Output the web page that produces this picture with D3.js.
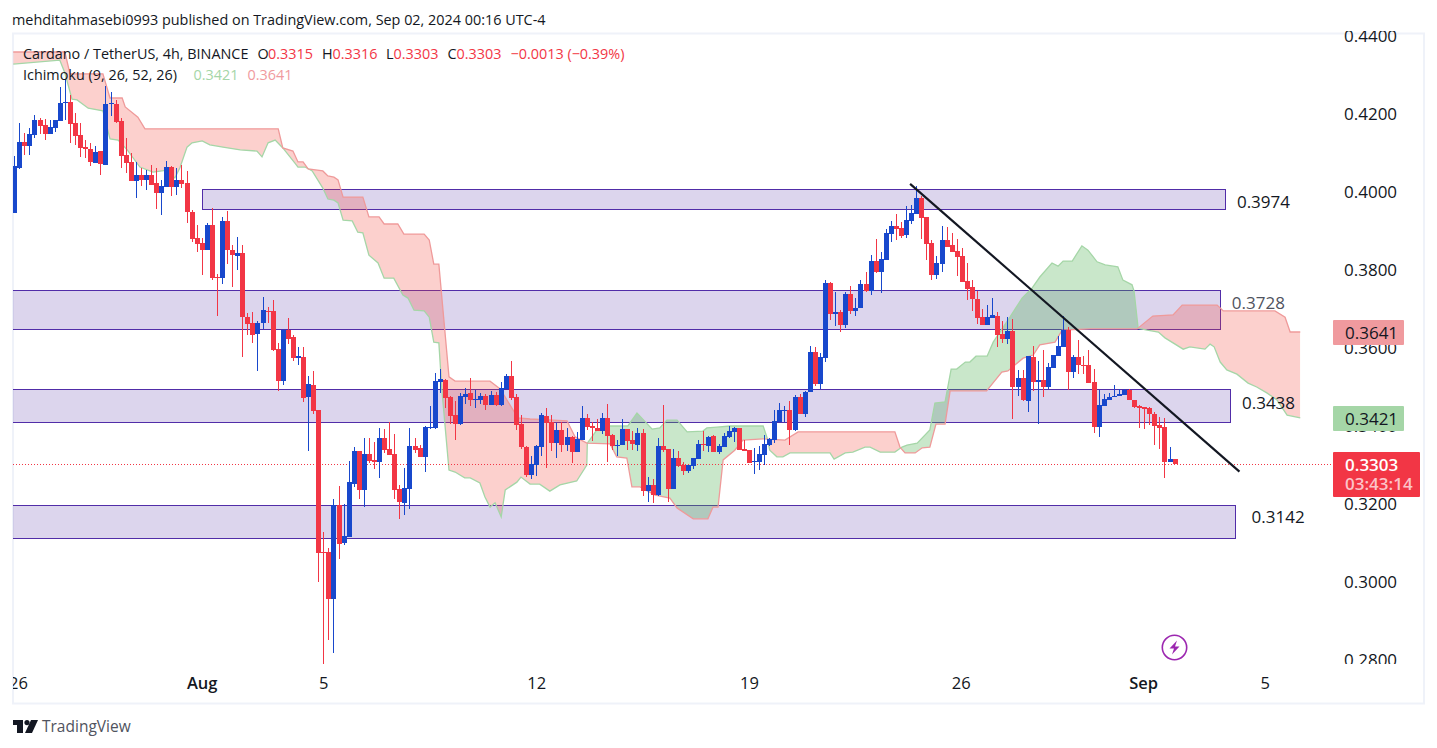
<!DOCTYPE html>
<html>
<head>
<meta charset="utf-8">
<script src="https://cdnjs.cloudflare.com/ajax/libs/d3/7.8.5/d3.min.js"></script>
<style>
  html, body { margin: 0; padding: 0; background: #fff; overflow: hidden; }
  text { font-family: "Open Sans", sans-serif; }
</style>
</head>
<body>
<svg id="chart" width="1437" height="748"></svg>
<script>
// 4h candles
var opens = [.3945,.4062,.4128,.4118,.4147,.4185,.4172,.4149,.4164,.4183,
  .4229,.4231,.4176,.4145,.4115,.4109,.4075,.4104,.4070,.4226,
  .4226,.4181,.4094,.4077,.4029,.4044,.4031,.4044,.4022,.3998,
  .4014,.4063,.4014,.4032,.4022,.3950,.3881,.3868,.3851,.3915,
  .3781,.3779,.3925,.3851,.3836,.3843,.3679,.3663,.3636,.3663,
  .3695,.3695,.3597,.3516,.3646,.3627,.3575,.3577,.3474,.3505,
  .3441,.3077,.3077,.2957,.3197,.3101,.3115,.3251,.3336,.3236,
  .3328,.3313,.3308,.3369,.3341,.3328,.3238,.3202,.3238,.3349,
  .3344,.3320,.3394,.3395,.3513,.3518,.3474,.3428,.3405,.3475,
  .3485,.3468,.3467,.3477,.3454,.3479,.3454,.3495,.3528,.3474,
  .3405,.3346,.3274,.3300,.3346,.3426,.3410,.3357,.3390,.3351,
  .3372,.3333,.3364,.3421,.3400,.3395,.3387,.3421,.3377,.3349,
  .3351,.3392,.3364,.3351,.3382,.3233,.3249,.3223,.3349,.3341,
  .3239,.3318,.3300,.3285,.3298,.3316,.3354,.3349,.3374,.3333,
  .3346,.3372,.3385,.3395,.3341,.3339,.3309,.3308,.3326,.3351,
  .3364,.3410,.3439,.3441,.3390,.3474,.3431,.3487,.3589,.3507,
  .3574,.3766,.3688,.3692,.3659,.3738,.3694,.3702,.3764,.3747,
  .3823,.3794,.3825,.3892,.3912,.3907,.3889,.3925,.3943,.3984,
  .3935,.3869,.3787,.3815,.3876,.3864,.3848,.3835,.3771,.3756,
  .3725,.3679,.3659,.3677,.3682,.3635,.3624,.3644,.3500,.3524,
  .3465,.3577,.3512,.3518,.3500,.3549,.3580,.3603,.3647,.3539,
  .3577,.3557,.3557,.3513,.3398,.3452,.3467,.3475,.3476,.3480,
  .3493,.3467,.3452,.3449,.3447,.3431,.3403,.3398,.3308,.3315];
var highs = [.4092,.4178,.4152,.4163,.4198,.4189,.4188,.4185,.4185,.4270,
  .4291,.4249,.4203,.4176,.4133,.4126,.4118,.4105,.4272,.4257,
  .4236,.4191,.4138,.4099,.4077,.4061,.4056,.4069,.4061,.4031,
  .4079,.4067,.4061,.4069,.4054,.3954,.3915,.3881,.3921,.3958,
  .3791,.3937,.3951,.3864,.3885,.3864,.3691,.3693,.3668,.3732,
  .3706,.3723,.3612,.3650,.3676,.3633,.3603,.3603,.3528,.3541,
  .3441,.3128,.3087,.3213,.3246,.3200,.3310,.3346,.3336,.3369,
  .3369,.3359,.3395,.3392,.3409,.3379,.3249,.3292,.3395,.3369,
  .3351,.3400,.3451,.3536,.3546,.3520,.3477,.3464,.3485,.3497,
  .3523,.3492,.3485,.3482,.3490,.3487,.3513,.3533,.3567,.3482,
  .3428,.3349,.3323,.3351,.3433,.3446,.3428,.3408,.3410,.3395,
  .3374,.3385,.3451,.3431,.3410,.3418,.3433,.3457,.3380,.3364,
  .3418,.3392,.3387,.3395,.3392,.3269,.3264,.3369,.3454,.3341,
  .3341,.3336,.3308,.3300,.3318,.3364,.3387,.3374,.3377,.3354,
  .3381,.3400,.3398,.3395,.3364,.3339,.3344,.3349,.3377,.3369,
  .3441,.3459,.3451,.3464,.3480,.3482,.3490,.3605,.3602,.3587,
  .3774,.3769,.3743,.3697,.3743,.3759,.3728,.3774,.3794,.3838,
  .3879,.3846,.3905,.3925,.3943,.3923,.3964,.3966,.4015,.3989,
  .3935,.3876,.3835,.3912,.3910,.3894,.3879,.3856,.3818,.3774,
  .3746,.3700,.3710,.3728,.3692,.3669,.3679,.3675,.3544,.3544,
  .3580,.3606,.3567,.3595,.3562,.3582,.3631,.3682,.3653,.3582,
  .3621,.3580,.3595,.3547,.3493,.3482,.3485,.3506,.3495,.3495,
  .3495,.3467,.3454,.3449,.3449,.3436,.3424,.3421,.3347,.3316];
var lows = [.3945,.4060,.4095,.4095,.4138,.4149,.4133,.4149,.4155,.4183,
  .4185,.4126,.4121,.4091,.4086,.4067,.4074,.4044,.4070,.4195,
  .4176,.4062,.4050,.4029,.3985,.4015,.4005,.4019,.3956,.3942,
  .4014,.3991,.3992,.4009,.3921,.3871,.3845,.3787,.3851,.3774,
  .3682,.3764,.3815,.3757,.3800,.3578,.3633,.3614,.3542,.3650,
  .3663,.3593,.3491,.3505,.3610,.3567,.3556,.3462,.3337,.3432,
  .3000,.2791,.2851,.2819,.3059,.3095,.3115,.3244,.3213,.3193,
  .3304,.3290,.3267,.3330,.3326,.3213,.3161,.3172,.3187,.3331,
  .3320,.3282,.3392,.3392,.3485,.3446,.3405,.3364,.3402,.3456,
  .3451,.3446,.3456,.3441,.3454,.3451,.3451,.3495,.3467,.3390,
  .3341,.3269,.3264,.3272,.3323,.3292,.3336,.3318,.3333,.3336,
  .3305,.3333,.3364,.3390,.3362,.3387,.3380,.3308,.3339,.3323,
  .3351,.3339,.3339,.3336,.3221,.3205,.3203,.3221,.3333,.3205,
  .3239,.3295,.3274,.3280,.3290,.3316,.3336,.3333,.3333,.3328,
  .3346,.3369,.3359,.3339,.3336,.3305,.3277,.3287,.3300,.3349,
  .3357,.3410,.3410,.3351,.3387,.3431,.3423,.3487,.3502,.3494,
  .3564,.3671,.3656,.3641,.3651,.3687,.3682,.3702,.3743,.3735,
  .3792,.3741,.3825,.3871,.3877,.3882,.3882,.3918,.3943,.3879,
  .3825,.3774,.3776,.3794,.3859,.3846,.3784,.3769,.3723,.3694,
  .3661,.3659,.3659,.3677,.3602,.3612,.3610,.3418,.3476,.3465,
  .3436,.3490,.3406,.3475,.3495,.3549,.3580,.3603,.3493,.3524,
  .3534,.3534,.3511,.3382,.3372,.3452,.3467,.3475,.3476,.3480,
  .3467,.3447,.3395,.3393,.3403,.3352,.3341,.3267,.3308,.3303];
var closes = [.4067,.4128,.4118,.4149,.4185,.4169,.4149,.4166,.4185,.4227,
  .4231,.4174,.4144,.4113,.4111,.4077,.4103,.4072,.4226,.4228,
  .4179,.4092,.4075,.4029,.4044,.4031,.4044,.4019,.3998,.4015,
  .4063,.4014,.4032,.4021,.3949,.3879,.3867,.3851,.3915,.3779,
  .3779,.3925,.3851,.3838,.3843,.3680,.3662,.3633,.3663,.3697,
  .3692,.3595,.3516,.3646,.3623,.3575,.3579,.3472,.3508,.3438,
  .3075,.3075,.2957,.3197,.3097,.3118,.3256,.3336,.3236,.3328,
  .3310,.3308,.3369,.3338,.3326,.3236,.3205,.3241,.3349,.3338,
  .3320,.3397,.3397,.3515,.3520,.3472,.3426,.3405,.3477,.3482,
  .3467,.3470,.3477,.3454,.3479,.3454,.3497,.3528,.3472,.3402,
  .3346,.3274,.3303,.3349,.3428,.3408,.3357,.3390,.3351,.3372,
  .3333,.3367,.3421,.3398,.3395,.3387,.3421,.3374,.3349,.3351,
  .3392,.3362,.3354,.3382,.3233,.3249,.3223,.3349,.3339,.3239,
  .3318,.3298,.3285,.3300,.3318,.3354,.3351,.3372,.3333,.3349,
  .3374,.3387,.3395,.3339,.3336,.3305,.3310,.3328,.3354,.3367,
  .3413,.3441,.3441,.3390,.3474,.3431,.3487,.3589,.3507,.3577,
  .3766,.3687,.3692,.3659,.3738,.3694,.3702,.3764,.3746,.3823,
  .3794,.3828,.3894,.3912,.3905,.3887,.3928,.3946,.3984,.3933,
  .3866,.3787,.3818,.3876,.3859,.3846,.3833,.3769,.3751,.3725,
  .3677,.3659,.3679,.3684,.3633,.3623,.3644,.3500,.3524,.3467,
  .3580,.3513,.3518,.3500,.3552,.3582,.3606,.3647,.3539,.3577,
  .3557,.3554,.3511,.3398,.3454,.3470,.3475,.3477,.3482,.3493,
  .3467,.3449,.3447,.3444,.3431,.3400,.3395,.3308,.3316,.3303];

// ichimoku cloud edges, bar index + price
var spanAIdx = [-0.2,9,10,11.4,12.4,14.6,17.5,18.9,20.5,22.3,24.8,27.4,30.2,31.7,32.7,34.1,35.1,37.1,38.6,41.2,44.6,47.9,48.9,50.1,51.5,53,55.4,56,57.4,58.8,60.9,61.9,63.1,63.9,64.9,66.7,67.8,68.8,70,71.8,73,74.9,76.7,77.7,78.9,80.9,81.9,82.8,83.8,84.4,85.8,87,88.9,90,91.9,92.9,93.9,94.9,96.1,96.9,99.2,100,101.8,103.7,105.7,107.7,111,113,113.1,115,117.6,121.1,122.9,125.9,127.4,128.8,130.8,132.8,135.9,136.7,138.7,141.3,147.8,148.6,149.1,150.5,151.7,153.1,161,161.8,164,165.5,167.9,168.9,170.9,173.8,175.2,176.2,178.2,180.7,181.7,183.7,184.9,186,187.7,188.6,189.8,192,193.2,196.5,198.9,200.9,202.4,204.8,206,207,208.8,210.7,211.9,213.7,215.3,217.8,218.8,220.6,221,221.8,223.6,225.8,227.1,230.7,232,235,236,236.8,238,239.3,241.3,243.5,245.2,247.2,249.2,251.2,253.8];
var spanA = [.4328,.4338,.4305,.4238,.4236,.4215,.4208,.4136,.4133,.4108,.4064,.4051,.4056,.4036,.4062,.4115,.4126,.4131,.4121,.4115,.4108,.4105,.4090,.4126,.4133,.4113,.4074,.4064,.4064,.4054,.4010,.3982,.3979,.3972,.3928,.3926,.3897,.3895,.3838,.3818,.3779,.3779,.3736,.3728,.3697,.3695,.3679,.3615,.3613,.3492,.3287,.3282,.3267,.3267,.3254,.3218,.3192,.3203,.3167,.3236,.3256,.3269,.3251,.3251,.3233,.3249,.3259,.3300,.3356,.3390,.3400,.3400,.3433,.3392,.3395,.3415,.3415,.3385,.3387,.3395,.3397,.3400,.3400,.3369,.3338,.3321,.3321,.3331,.3331,.3315,.3331,.3333,.3346,.3346,.3333,.3333,.3346,.3351,.3356,.3390,.3459,.3462,.3546,.3546,.3564,.3564,.3579,.3579,.3615,.3679,.3728,.3754,.3782,.3818,.3810,.3823,.3823,.3862,.3851,.3821,.3813,.3808,.3774,.3762,.3746,.3651,.3646,.3641,.3626,.3597,.3603,.3597,.3610,.3603,.3564,.3544,.3533,.3510,.3500,.3485,.3467,.3428,.3421];
var spanBIdx = [-0.2,10,11,17.5,18.9,21.3,21.9,24.4,25.8,52.1,53,55,56,57,58,60.9,61.9,63.1,63.9,64.9,68.8,70,72,73,75.7,76.9,80.9,81.9,82.8,83.8,85.8,87,93.9,95.9,99.4,101.8,109.1,110.7,113,117.6,118.9,120.9,121.9,123.5,126.5,129.4,130.8,134,136.9,137.9,138.9,139.9,142.2,143.8,147.8,152.1,154.7,173.8,174.8,175.8,177.8,179.2,180.7,181.9,183.7,184.7,191.9,194.9,196.1,199.1,201.1,202.4,205.4,206.8,212.3,221.6,224.7,228.7,230.5,237.4,238.6,248.8,250.8,251.8,253.8];
var spanB = [.4359,.4359,.4303,.4303,.4241,.4241,.4218,.4192,.4162,.4162,.4113,.4105,.4077,.4077,.4059,.4054,.4041,.4038,.4031,.3987,.3987,.3936,.3936,.3918,.3918,.3892,.3892,.3877,.3815,.3815,.3526,.3515,.3515,.3495,.3421,.3418,.3413,.3372,.3356,.3354,.3321,.3318,.3244,.3244,.3223,.3215,.3190,.3162,.3162,.3192,.3192,.3313,.3338,.3364,.3367,.3364,.3385,.3385,.3346,.3331,.3331,.3344,.3346,.3405,.3405,.3490,.3490,.3538,.3541,.3574,.3582,.3608,.3615,.3646,.3649,.3649,.3682,.3685,.3710,.3710,.3695,.3695,.3679,.3641,.3641];

// support / resistance zones
var zoneStart = [37.1, -1, -1, -1];
var zoneEnd = [238.9, 237.9, 239.9, 240.9];
var zoneTop = [.4007, .3748, .3494, .3197];
var zoneBottom = [.3956, .3649, .3409, .3113];
var zoneLabels = ["0.3974", "0.3728", "0.3438", "0.3142"];
var zoneLabelIdx = [241.3, 240.3, 242.3, 244.2];
var zoneLabelPrice = [.3974, .3715, .3459, .3167];

// trend line, bar index + price
var trendIdx = [176.8, 241.8];
var trendPrice = [.4021, .3283];

var priceTicks = [.44, .42, .40, .38, .36, .34, .32, .30, .28];
var timeTickIdx = [.75, 37, 61, 103, 145, 186.8, 222.8, 246.8];
var timeTickLabels = ["26", "Aug", "5", "12", "19", "26", "Sep", "5"];
var lastPrice = .3303;

var up = "#1848cc", down = "#f23645";
var width = 1437, height = 748;

var x = d3.scaleLinear().domain([0, 229]).range([14.23, 1174.6]);
var y = d3.scaleLinear().domain([.44, .28]).range([36, 660]);

var svg = d3.select("#chart");
var defs = svg.append("defs");

defs.append("clipPath").attr("id", "pane")
    .append("rect").attr("x", 13).attr("y", 34).attr("width", 1411).attr("height", 669);
defs.append("clipPath").attr("id", "priceClip")
    .append("rect").attr("x", 1330).attr("y", 31).attr("width", 90).attr("height", 633);
defs.append("clipPath").attr("id", "timeClip")
    .append("rect").attr("x", 13).attr("y", 665).attr("width", 1411).attr("height", 38);

// frame
svg.append("rect")
    .attr("x", 13).attr("y", 33.5).attr("width", 1411).attr("height", 670)
    .style("fill", "#fff").style("stroke", "#eff2f9").style("stroke-width", 2);

var pane = svg.append("g").attr("clip-path", "url(#pane)");

// zones go under the cloud
var zones = pane.append("g");
zoneEnd.forEach(function(end, i){
    zones.append("rect")
	.attr("x", Math.round(x(zoneStart[i])) + .5)
	.attr("y", Math.round(y(zoneTop[i])) + .5)
	.attr("width", Math.round(x(end)) - Math.round(x(zoneStart[i])))
	.attr("height", Math.round(y(zoneBottom[i])) - Math.round(y(zoneTop[i])))
	.style("fill", "rgba(103,72,178,.23)")
	.style("stroke", "#512da8")
	.style("stroke-width", 1);
});

// cloud: red where B is over A, green where A is over B
var ptsA = spanAIdx.map(function(d, i){ return [d, spanA[i]]; });
var ptsB = spanBIdx.map(function(d, i){ return [d, spanB[i]]; });
var above = d3.area().x(function(d){return x(d[0]);}).y0(function(d){return y(d[1]);}).y1(0);
var below = d3.area().x(function(d){return x(d[0]);}).y0(function(d){return y(d[1]);}).y1(height);
var edge = d3.line().x(function(d){return x(d[0]);}).y(function(d){return y(d[1]);});

defs.append("clipPath").attr("id", "belowB").append("path").attr("d", below(ptsB));
defs.append("clipPath").attr("id", "belowA").append("path").attr("d", below(ptsA));

pane.append("path").attr("d", above(ptsA)).attr("clip-path", "url(#belowB)")
    .style("fill", "rgba(244,67,54,.25)");
pane.append("path").attr("d", above(ptsB)).attr("clip-path", "url(#belowA)")
    .style("fill", "rgba(76,175,80,.3)");
pane.append("path").attr("d", edge(ptsA))
    .style("fill", "none").style("stroke", "#a5d6a7").style("stroke-width", 1.3);
pane.append("path").attr("d", edge(ptsB))
    .style("fill", "none").style("stroke", "#ef9a9a").style("stroke-width", 1.3);

// last price line
pane.append("line")
    .attr("x1", 13).attr("x2", 1331)
    .attr("y1", Math.round(y(lastPrice)) + .5).attr("y2", Math.round(y(lastPrice)) + .5)
    .style("stroke", down).style("stroke-dasharray", "1 2");

// candles
var candles = pane.append("g").selectAll("g")
    .data(opens)
    .enter().append("g")
    .style("shape-rendering", "crispEdges");
function colorOf(d, i){ return closes[i] >= d ? up : down; }
candles.append("rect")
    .attr("x", function(d, i){ return Math.round(x(i)); })
    .attr("y", function(d, i){ return y(highs[i]); })
    .attr("width", 1)
    .attr("height", function(d, i){ return y(lows[i]) - y(highs[i]); })
    .style("fill", colorOf);
candles.append("rect")
    .attr("x", function(d, i){ return Math.round(x(i)) - 2; })
    .attr("y", function(d, i){ return Math.round(y(Math.max(d, closes[i]))); })
    .attr("width", 5)
    .attr("height", function(d, i){ return Math.max(1, Math.round(y(Math.min(d, closes[i]))) - Math.round(y(Math.max(d, closes[i])))); })
    .style("fill", colorOf);

// trend line
pane.append("line")
    .attr("x1", x(trendIdx[0])).attr("y1", y(trendPrice[0]))
    .attr("x2", x(trendIdx[1])).attr("y2", y(trendPrice[1]))
    .style("stroke", "#131722").style("stroke-width", 2.2);

// zone labels
zoneLabels.forEach(function(t, i){
    svg.append("text").text(t)
	.attr("x", x(zoneLabelIdx[i])).attr("y", y(zoneLabelPrice[i]) + 6)
	.style("font-size", "17px")
	.style("fill", i == 1 ? "#50535e" : "#131722");
});

// price axis
var priceAxis = d3.axisRight(y).tickValues(priceTicks).tickSize(0).tickPadding(0).tickFormat(d3.format(".4f"));
var priceG = svg.append("g")
    .attr("clip-path", "url(#priceClip)")
    .append("g")
    .attr("transform", "translate(1344,0)")
    .call(priceAxis);
priceG.select(".domain").remove();
priceG.selectAll("text").style("font-size", "17px").style("font-family", "'Open Sans', sans-serif").style("fill", "#131722");

// time axis
var timeAxis = d3.axisBottom(x).tickValues(timeTickIdx).tickSize(0).tickPadding(0)
    .tickFormat(function(d, i){ return timeTickLabels[i]; });
var timeG = svg.append("g")
    .attr("clip-path", "url(#timeClip)")
    .append("g")
    .attr("transform", "translate(0,677)")
    .call(timeAxis);
timeG.select(".domain").remove();
timeG.selectAll("text")
    .style("font-size", "16.5px").style("font-family", "'Open Sans', sans-serif").style("fill", "#131722")
    .style("font-weight", function(d, i){ return isNaN(+timeTickLabels[i]) ? 600 : 400; });

// price tags on the scale
function tag(top, h, w, color){
    svg.append("rect").attr("x", 1333).attr("y", top).attr("width", w).attr("height", h)
	.attr("rx", 1).style("fill", color);
}
function tagText(t, py, color, weight){
    svg.append("text").text(t).attr("x", 1345).attr("y", py)
	.style("font-size", "17px").style("font-weight", weight).style("fill", color);
}
tag(320, 25, 71, "#f09a9e");
tagText("0.3641", 338.5, "#131722", 400);
tag(406, 25, 71, "#a5d6a7");
tagText("0.3421", 424.5, "#131722", 400);
tag(452, 45, 87, down);
tagText("0.3303", 470.5, "#fff", 600);
tagText("03:43:14", 490, "#fcc3c8", 600);

// header + legend
function label(t, lx, ly, color, size){
    svg.append("text").text(t).attr("x", lx).attr("y", ly)
	.style("font-size", size + "px").style("fill", color);
}
label("mehditahmasebi0993 published on TradingView.com, Sep 02, 2024 00:16 UTC-4", 12, 25, "#131722", 14.4);
label("Cardano / TetherUS, 4h, BINANCE", 23, 59, "#131722", 14.4);
label("O", 257.6, 59, "#131722", 14.4);
label("0.3315", 268, 59, down, 14.4);
label("H", 322, 59, "#131722", 14.4);
label("0.3316", 332.5, 59, down, 14.4);
label("L", 386, 59, "#131722", 14.4);
label("0.3303", 393.5, 59, down, 14.4);
label("C", 447.4, 59, "#131722", 14.4);
label("0.3303", 456.6, 59, down, 14.4);
label("\u22120.0013 (\u22120.39%)", 510.5, 59, down, 14.4);
label("Ichimoku (9, 26, 52, 26)", 23, 80, "#131722", 14.4);
label("0.3421", 193.6, 80, "#a5d6a7", 14.4);
label("0.3641", 247.5, 80, "#f09a9e", 14.4);

// lightning badge
var badge = svg.append("g").attr("transform", "translate(1174.5,647.5)");
badge.append("circle").attr("r", 12.2).style("fill", "#fff").style("stroke", "#9c27b0").style("stroke-width", 1.6);
badge.append("path").attr("d", "M2.5,-7 L-5,1 L-0.5,1 L-2.5,7 L5,-1 L0.5,-1 Z").style("fill", "#9c27b0");

// TradingView mark
var logo = svg.append("g").attr("transform", "translate(13,720)").style("fill", "#131722");
logo.append("path").attr("d", "M0,0 H10 V13 H4 V5 H0 Z");
logo.append("circle").attr("cx", 14).attr("cy", 2.6).attr("r", 2.6);
logo.append("path").attr("d", "M18,0 H25 L19,13 H12 Z");
label("TradingView", 42, 732, "#50535e", 15.5);
</script>
</body>
</html>
